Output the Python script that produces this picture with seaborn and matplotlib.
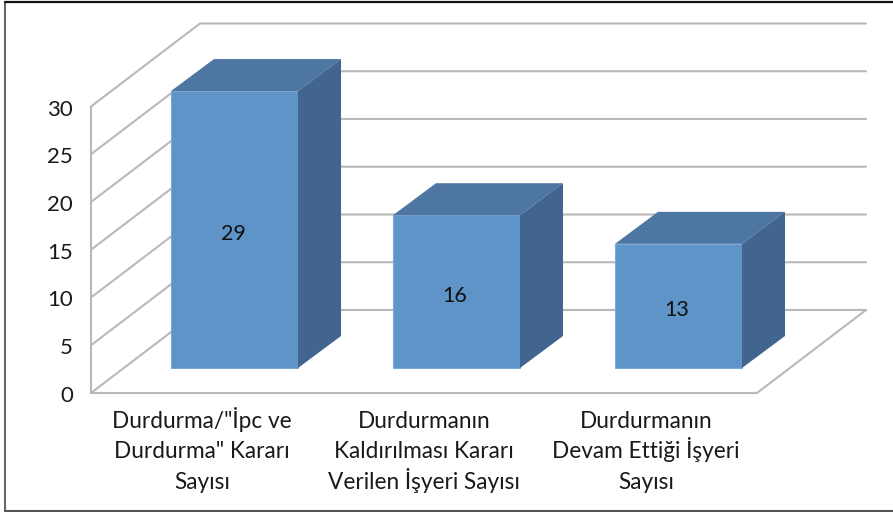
import matplotlib
matplotlib.use("Agg")
import matplotlib.pyplot as plt
import pandas as pd
import seaborn as sns
from matplotlib.patches import Polygon

categories = ['Durdurma/"İpc ve\nDurdurma" Kararı\nSayısı',
              "Durdurmanın\nKaldırılması Kararı\nVerilen İşyeri Sayısı",
              "Durdurmanın\nDevam Ettiği İşyeri\nSayısı"]
values = [29, 16, 13]
y_ticks = [0, 5, 10, 15, 20, 25, 30]

W, H = 893, 512
PX_CAT = 222      # pixels between categories
PX_UNIT = 9.55    # pixels per value unit
X0, Y0 = 234.5, 368  # pixel of first bar centre / bar base
BAR_W = 127 / PX_CAT

FRONT = "#5F94C9"
TOP = "#4E76A2"
SIDE = "#41658F"
GRID = "#B9B9B9"
LABEL_BASELINES = [428, 458, 489]


def dx(px):
    return px / PX_CAT


def dy(px):
    return px / PX_UNIT


def generate_chart():
    sns.set_theme(style="white")
    plt.rcParams["font.family"] = ["Lato", "DejaVu Sans"]

    fig = plt.figure(figsize=(W / 100, H / 100), dpi=100)
    ax = fig.add_axes([0, 0, 1, 1])

    df = pd.DataFrame({"kategori": categories, "sayi": values})
    sns.barplot(data=df, x="kategori", y="sayi", color=FRONT, saturation=1,
                width=BAR_W, ax=ax, zorder=4, edgecolor="#7FA9D3", linewidth=0.8)

    ax.set_xlim(-X0 / PX_CAT, (W - X0) / PX_CAT)
    ax.set_ylim(-(H - Y0) / PX_UNIT, Y0 / PX_UNIT)
    ax.set_axis_off()

    # chart walls
    left_front = dx(91 - X0)
    left_back = dx(200 - X0)
    right_back = dx(866 - X0)
    right_front = dx(757 - X0)
    base_front = dy(Y0 - 393)
    base_back = dy(Y0 - 310)
    line = dict(color=GRID, lw=1.5, zorder=1, solid_capstyle="round")

    for v in y_ticks:
        ax.plot([left_front, left_back, right_back],
                [v + base_front, v + base_back, v + base_back], **line)
        ax.text(left_front - dx(18), v + base_front + dy(-3), str(v), ha="right", va="center",
                fontsize=16, color="#1a1a1a")
    ax.plot([left_front, left_front], [base_front, max(y_ticks) + base_front], **line)
    ax.plot([left_front, right_front, right_back],
            [base_front, base_front, base_back], **line)

    # depth of the bars
    depth_x = dx(43)
    depth_y = dy(32)
    half = BAR_W / 2
    for i, v in enumerate(values):
        ax.add_patch(Polygon([(i - half, v), (i - half + depth_x, v + depth_y),
                              (i + half + depth_x, v + depth_y), (i + half, v)],
                             closed=True, fc=TOP, ec="none", zorder=4))
        ax.add_patch(Polygon([(i + half, 0), (i + half + depth_x, depth_y),
                              (i + half + depth_x, v + depth_y), (i + half, v)],
                             closed=True, fc=SIDE, ec="none", zorder=4))
        ax.text(i - dx(1.5), v / 2 - dy(4), str(v), ha="center", va="center", fontsize=15.5,
                color="#111111", zorder=5)

    # category labels, one text per line so the line distance stays even
    for i, label in enumerate(categories):
        for part, base in zip(label.split("\n"), LABEL_BASELINES):
            ax.text(i - dx(32.5), dy(Y0 - base), part, ha="center", va="baseline",
                    fontsize=16.3, color="#1a1a1a")

    # image frame
    ax.plot([5 / W, 5 / W], [1.5 / H, 1 - 1.5 / H], transform=ax.transAxes, color="#666666", lw=1.5, clip_on=False)
    ax.plot([5 / W, 1], [1 - 1.5 / H, 1 - 1.5 / H], transform=ax.transAxes, color="#111111", lw=1.6)
    ax.plot([5 / W, 1], [1.5 / H, 1.5 / H], transform=ax.transAxes, color="#555555", lw=1.5)

    fig.savefig("out.png", dpi=100)


if __name__ == "__main__":
    generate_chart()
